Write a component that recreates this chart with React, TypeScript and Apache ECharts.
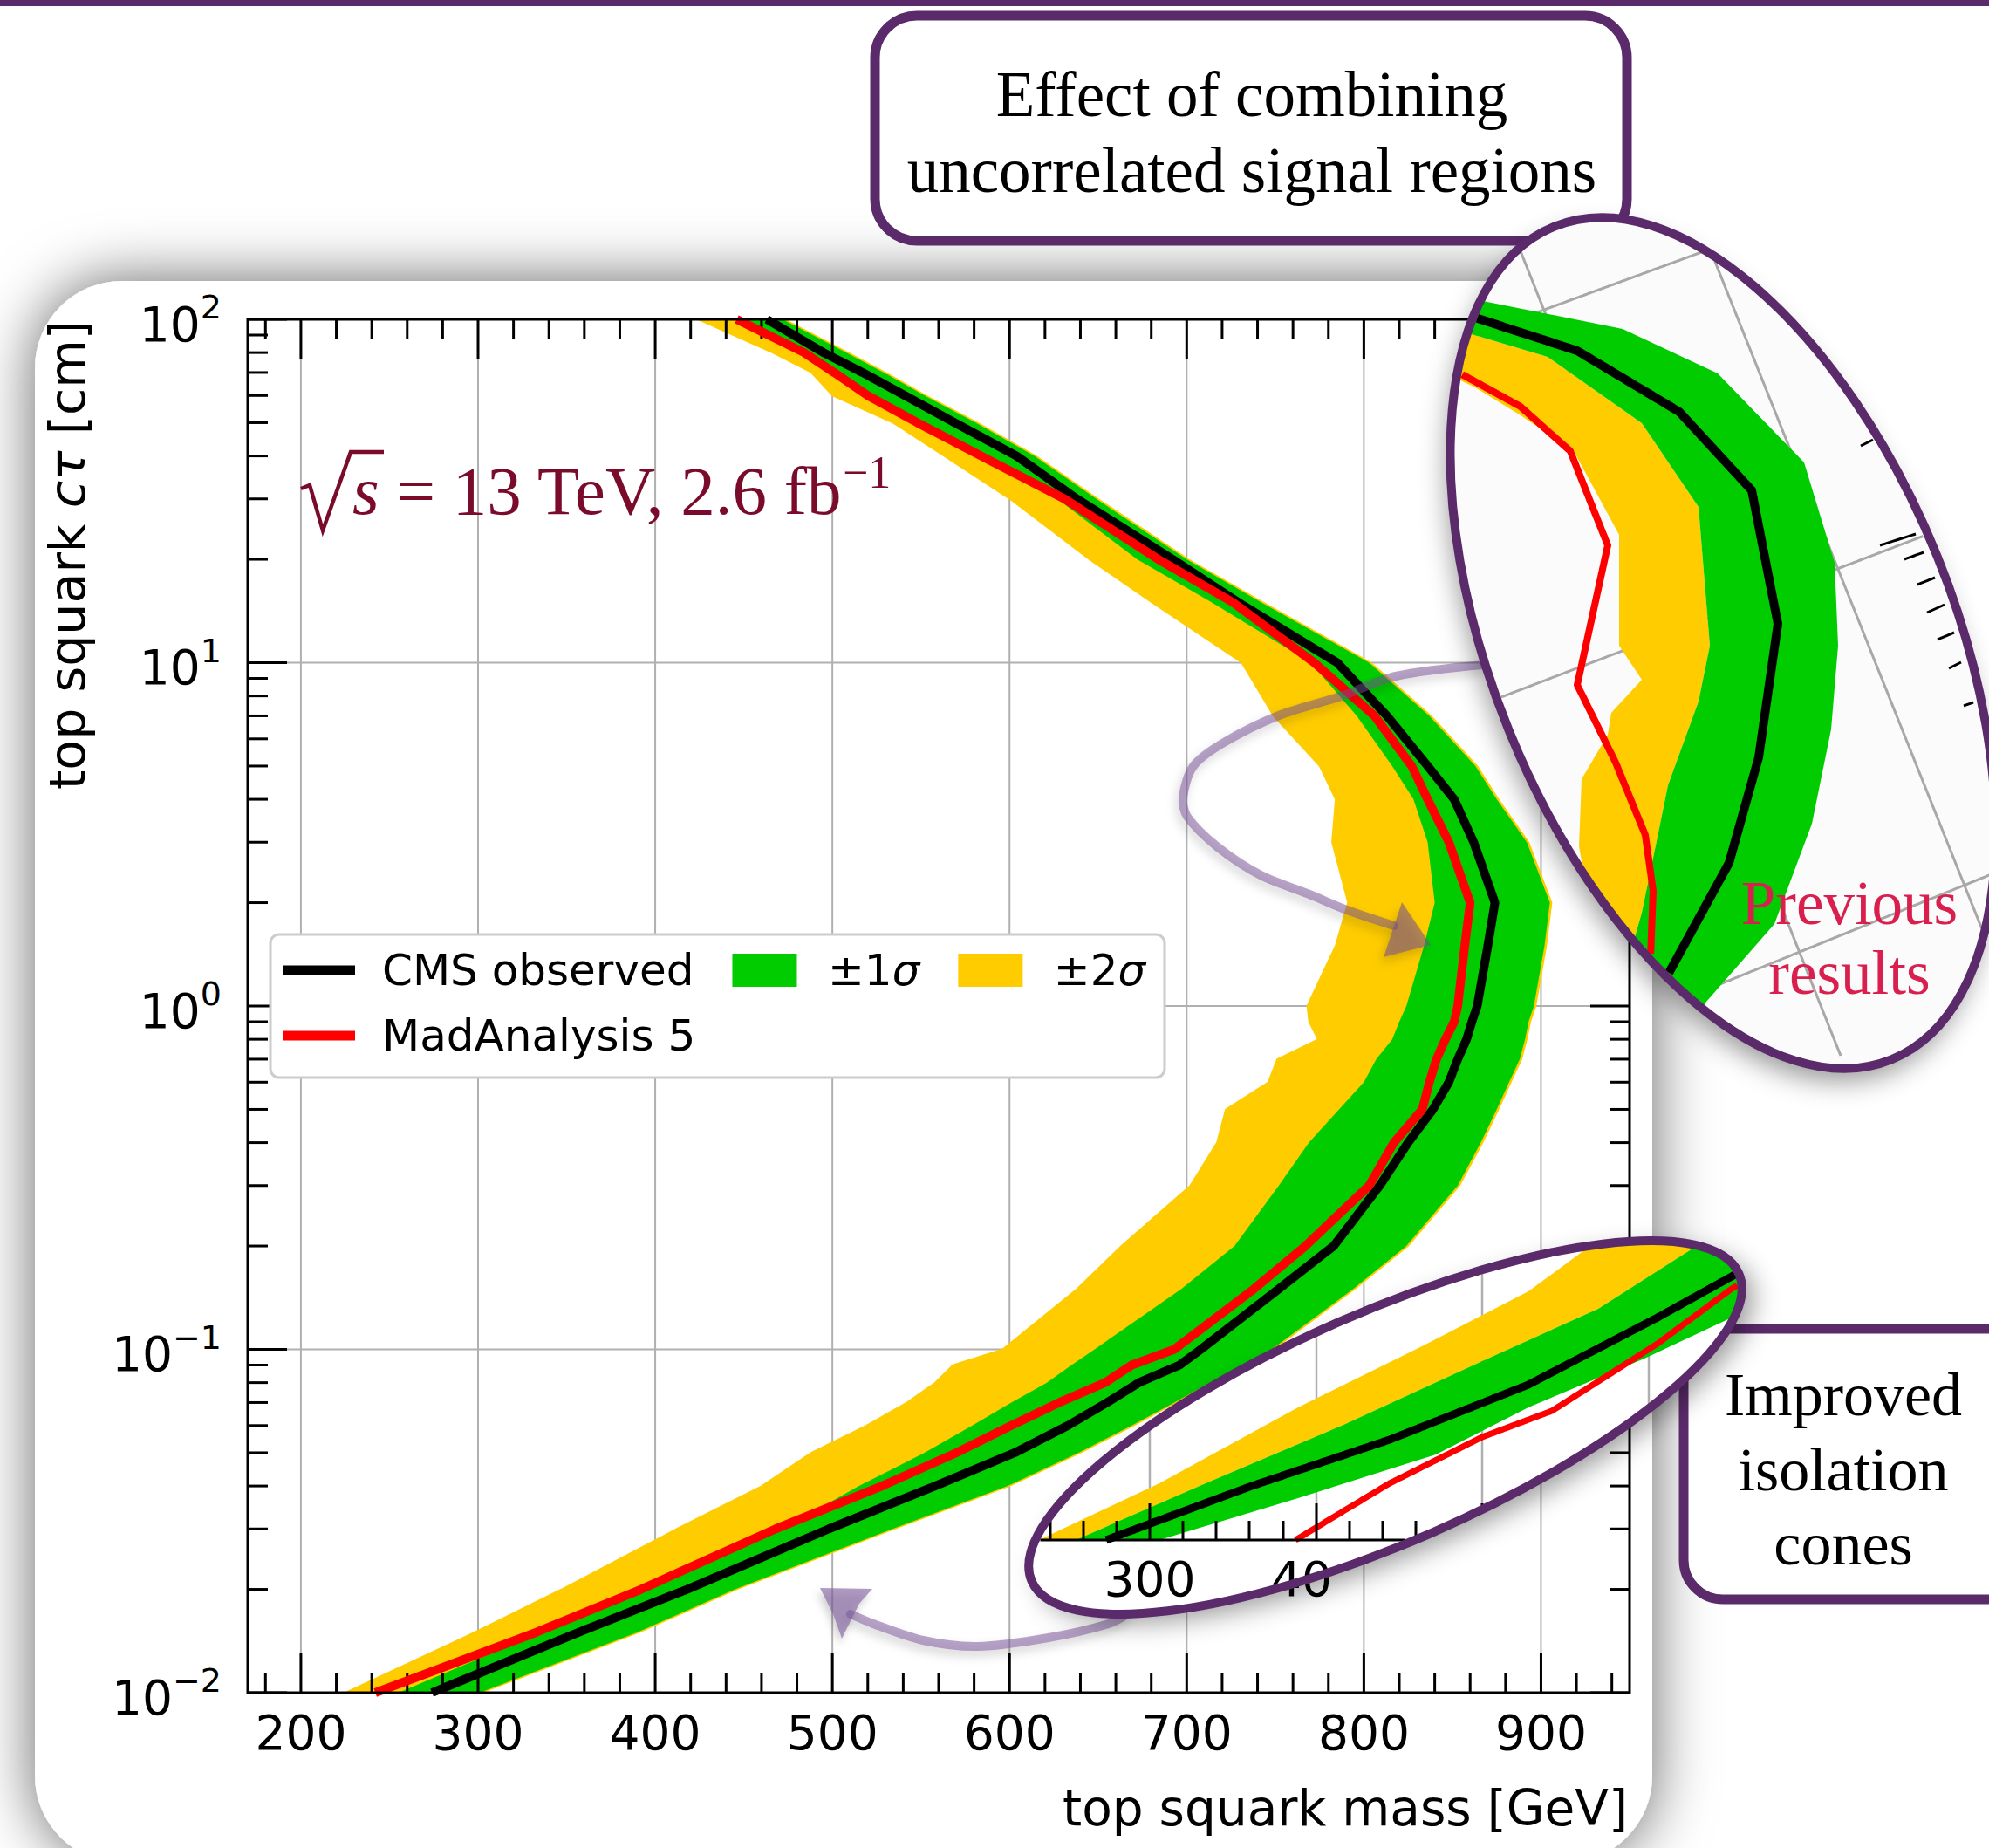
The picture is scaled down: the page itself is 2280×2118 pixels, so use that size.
import React, { useEffect, useRef } from 'react';
import * as echarts from 'echarts';

// ---------------- data ----------------
const ctau = [0.01, 0.015, 0.02, 0.03, 0.04, 0.05, 0.06, 0.07, 0.08, 0.09, 0.1, 0.15, 0.2, 0.3, 0.4, 0.5, 0.6, 0.7, 0.8, 0.9, 1, 1.5, 2, 3, 4, 5, 7, 10, 15, 20, 30, 40, 50, 60, 70, 80, 100];
const massMinus2 = [225, 298, 347, 412, 460, 488, 519, 542, 558, 568, 596, 638, 663, 702, 717, 722, 746, 751, 774, 769, 768, 784, 791, 782, 784, 775, 749, 731, 680, 645, 600, 563, 534, 500, 488, 466, 424];
const massMinus1 = [255, 336, 392, 472, 515, 552, 579, 601, 621, 635, 648, 697, 727, 752, 769, 786, 800, 807, 816, 820, 824, 834, 840, 836, 828, 816, 796, 770, 714, 672, 627, 583, 549, 521, 503, 486, 449];
const massPlus1 = [301, 390, 445, 534, 599, 639, 669, 693, 713, 732, 748, 794, 824, 853, 866, 875, 882, 888, 891, 893, 896, 902, 905, 892, 875, 863, 837, 803, 742, 700, 649, 614, 581, 552, 529, 508, 472];
const massPlus2 = [302, 391, 446, 535, 600, 640, 670, 694, 714, 733, 749, 795, 825, 854, 867, 876, 883, 889, 892, 894, 897, 903, 906, 893, 876, 864, 838, 804, 743, 701, 650, 615, 582, 553, 530, 509, 473];
const massObserved = [274, 357, 418, 498, 558, 603, 633, 655, 673, 696, 708, 752, 783, 809, 825, 839, 848, 853, 858, 861, 864, 870, 874, 862, 851, 836, 813, 785, 729, 692, 638, 604, 569, 541, 517, 495, 463];
const massMA5 = [242, 333, 392, 468, 528, 570, 601, 628, 654, 669, 693, 738, 767, 803, 817, 833, 837, 841, 846, 851, 853, 857, 860, 848, 836, 827, 806, 772, 726, 684, 631, 584, 548, 520, 501, 484, 446];

const xMajorTicks = [200, 300, 400, 500, 600, 700, 800, 900];
const xMinorTicks = [180, 220, 240, 260, 280, 320, 340, 360, 380, 420, 440, 460, 480, 520, 540, 560, 580, 620, 640, 660, 680, 720, 740, 760, 780, 820, 840, 860, 880, 920, 940];
const yMajorTicks = [0.01, 0.1, 1, 10, 100];
const yMinorTicks = [0.02, 0.03, 0.04, 0.05, 0.06, 0.07, 0.08, 0.09, 0.2, 0.3, 0.4, 0.5, 0.6, 0.7, 0.8, 0.9, 2, 3, 4, 5, 6, 7, 8, 9, 20, 30, 40, 50, 60, 70, 80, 90];

const legendRow1 = ['CMS observed', '±1σ', '±2σ'];
const legendRow2 = ['MadAnalysis 5'];

// ---------------- layout / style ----------------
const W = 2280;
const H = 2118;
const X_MIN = 170;
const X_MAX = 950;
const Y_MIN = 0.01;
const Y_MAX = 100;
const SANS = 'DejaVu Sans';
const SERIF = 'Liberation Serif';
const PURPLE = '#5b2a6b';
const GREEN = '#00cc00';
const YELLOW = '#ffcc00';
const GRID_GRAY = '#b0b0b0';
const MAROON = '#7b0b2b';

type Pt = [number, number];
type Ell = { cx: number; cy: number; rx: number; ry: number; rot: number };

// ---------------- geometry helpers for the magnifier insets ----------------
function toLocal(p: Pt, e: Ell): Pt {
  const c = Math.cos(e.rot);
  const s = Math.sin(e.rot);
  const dx = p[0] - e.cx;
  const dy = p[1] - e.cy;
  return [c * dx - s * dy, s * dx + c * dy];
}
function insideEll(p: Pt, e: Ell, shrink: number) {
  const l = toLocal(p, e);
  const a = e.rx - shrink;
  const b = e.ry - shrink;
  return (l[0] * l[0]) / (a * a) + (l[1] * l[1]) / (b * b) <= 1;
}
function ellPoly(e: Ell, shrink: number, n = 180): Pt[] {
  const c = Math.cos(e.rot);
  const s = Math.sin(e.rot);
  const a = e.rx - shrink;
  const b = e.ry - shrink;
  const pts: Pt[] = [];
  for (let k = 0; k < n; k++) {
    const t = (2 * Math.PI * k) / n;
    const lx = a * Math.cos(t);
    const ly = b * Math.sin(t);
    pts.push([e.cx + lx * c + ly * s, e.cy - lx * s + ly * c]);
  }
  return pts;
}
function clipPolygon(subject: Pt[], clip: Pt[]): Pt[] {
  let out = subject.slice();
  for (let i = 0; i < clip.length; i++) {
    const A = clip[i];
    const B = clip[(i + 1) % clip.length];
    const inp = out;
    out = [];
    if (!inp.length) break;
    const side = (p: Pt) => (B[0] - A[0]) * (p[1] - A[1]) - (B[1] - A[1]) * (p[0] - A[0]);
    for (let j = 0; j < inp.length; j++) {
      const P = inp[j];
      const Q = inp[(j + 1) % inp.length];
      const sp = side(P);
      const sq = side(Q);
      if (sp >= 0) out.push(P);
      if ((sp >= 0) !== (sq >= 0)) {
        const t = sp / (sp - sq);
        out.push([P[0] + (Q[0] - P[0]) * t, P[1] + (Q[1] - P[1]) * t]);
      }
    }
  }
  return out;
}
function clipPolyline(pts: Pt[], e: Ell, shrink: number): Pt[][] {
  const runs: Pt[][] = [];
  let cur: Pt[] = [];
  for (let i = 0; i < pts.length - 1; i++) {
    const P = pts[i];
    const Q = pts[i + 1];
    const len = Math.hypot(Q[0] - P[0], Q[1] - P[1]);
    const n = Math.max(1, Math.ceil(len / 2.5));
    for (let k = i === 0 ? 0 : 1; k <= n; k++) {
      const p: Pt = [P[0] + ((Q[0] - P[0]) * k) / n, P[1] + ((Q[1] - P[1]) * k) / n];
      if (insideEll(p, e, shrink)) cur.push(p);
      else {
        if (cur.length > 1) runs.push(cur);
        cur = [];
      }
    }
  }
  if (cur.length > 1) runs.push(cur);
  return runs;
}

function gText(t: string, x: number, y: number, size: number, o: any = {}) {
  const align = o.align || 'center';
  const vAlign = o.vAlign || 'middle';
  const style: any = {
    text: t,
    fontSize: size,
    fontFamily: o.family || SANS,
    fontStyle: o.fontStyle || 'normal',
    fill: o.fill || '#000',
    align,
    verticalAlign: vAlign,
    textAlign: align,
    textVerticalAlign: vAlign,
  };
  if (o.rich) style.rich = o.rich;
  if (o.lineHeight) style.lineHeight = o.lineHeight;
  return { type: 'text', x, y, z: o.z ?? 6, rotation: o.rotation || 0, silent: true, style };
}

function insetParts(e: Ell, z: number, polys: any[], lines: any[]) {
  const clip = ellPoly(e, 4);
  const out: any[] = [];
  let zz = z;
  polys.forEach((p) => {
    const c = clipPolygon(p.pts, clip);
    if (c.length >= 3) out.push({ type: 'polygon', z: zz, silent: true, shape: { points: c }, style: { fill: p.fill } });
    zz++;
  });
  lines.forEach((l) => {
    clipPolyline(l.pts, e, 4).forEach((run) =>
      out.push({
        type: 'polyline',
        z: l.z ?? zz,
        silent: true,
        shape: { points: run },
        style: { stroke: l.stroke, lineWidth: l.width, lineCap: 'butt', lineJoin: 'round' },
      })
    );
    if (l.z === undefined) zz++;
  });
  return out;
}

// ---------------- decorative annotation geometry (pixels) ----------------
const TR: Ell = { cx: 1975, cy: 737, rx: 265, ry: 515, rot: 0.384 };
const BR: Ell = { cx: 1588, cy: 1636, rx: 442, ry: 132, rot: 0.41 };

const trGreenOuter: Pt[] = [[1643, 338], [1700, 345], [1860, 377], [1969, 428], [2068, 530], [2103, 645], [2107, 740], [2099, 836], [2077, 944], [2034, 1059], [1956, 1148], [1904, 1225]];
const trGreenInner: Pt[] = [[1643, 377], [1687, 383], [1774, 409], [1882, 485], [1947, 581], [1960, 740], [1947, 804], [1912, 900], [1899, 964], [1882, 1046], [1860, 1123], [1843, 1225]];
const trYellowLeft: Pt[] = [[1643, 421], [1691, 444], [1743, 476], [1804, 517], [1856, 613], [1856, 740], [1882, 779], [1847, 817], [1843, 842], [1813, 893], [1810, 970], [1826, 1059], [1843, 1225]];
const trBlack: Pt[] = [[1643, 354], [1691, 364], [1808, 402], [1925, 472], [2008, 562], [2038, 715], [2016, 868], [1982, 989], [1912, 1117], [1860, 1225]];
const trRed: Pt[] = [[1643, 421], [1674, 428], [1743, 466], [1800, 517], [1843, 625], [1808, 785], [1852, 874], [1886, 957], [1895, 1021], [1891, 1123], [1888, 1225]];
const trGrayLines: Pt[][] = [
  [[1710, 205], [2110, 1210]],
  [[1950, 260], [2330, 1210]],
  [[1650, 399], [2300, 161]],
  [[1650, 826], [2300, 578]],
  [[1700, 1238], [2300, 995]],
];
const trTicks: Pt[][] = [
  [[2155, 625], [2196, 612]],
  [[2183, 641], [2205, 633]],
  [[2198, 670], [2218, 662]],
  [[2209, 702], [2229, 693]],
  [[2221, 733], [2240, 725]],
  [[2234, 766], [2248, 759]],
  [[2251, 809], [2262, 805]],
  [[2133, 511], [2147, 504]],
];

const brYellow: Pt[] = [[1191, 1765], [1329, 1700], [1488, 1613], [1630, 1543], [1752, 1480], [1816, 1433], [1860, 1395], [1990, 1395], [1937, 1433], [1832, 1500], [1699, 1560], [1540, 1633], [1382, 1700], [1233, 1765]];
const brGreen: Pt[] = [[1233, 1765], [1382, 1700], [1540, 1633], [1699, 1560], [1832, 1500], [1937, 1433], [1990, 1395], [2060, 1395], [2060, 1470], [1985, 1510], [1885, 1557], [1752, 1613], [1646, 1667], [1488, 1717], [1329, 1765]];
const brBlack: Pt[] = [[1268, 1765], [1435, 1703], [1593, 1650], [1752, 1587], [1900, 1510], [1985, 1463], [2060, 1420]];
const brRed: Pt[] = [[1485, 1765], [1593, 1700], [1699, 1647], [1779, 1617], [1900, 1540], [1985, 1477], [2060, 1432]];
const brGridX = [1318, 1509, 1699, 1890];
const brMajorX = [1318, 1509, 1699];
const brMinorX = [1204, 1242, 1280, 1356, 1394, 1432, 1471, 1547, 1585, 1623, 1661];

const arrow1: Pt[] = [[1700, 762], [1600, 775], [1537, 798], [1466, 820], [1403, 851], [1368, 878], [1356, 914], [1361, 936], [1396, 971], [1445, 1003], [1501, 1025], [1544, 1043], [1598, 1061]];
const arrow1Head: Pt[] = [[1607, 1034], [1640, 1083], [1586, 1097]];
const arrow2: Pt[] = [[1294, 1849], [1271, 1861], [1202, 1877], [1121, 1887], [1058, 1880], [1001, 1861], [975, 1850]];
const arrow2Head: Pt[] = [[940, 1820], [1000, 1821], [985, 1838], [965, 1878], [955, 1850]];

function bandPoints(api: any, lo: number[], hi: number[]) {
  const pts: number[][] = [];
  for (let i = 0; i < ctau.length; i++) pts.push(api.coord([lo[i], ctau[i]]));
  for (let i = ctau.length - 1; i >= 0; i--) pts.push(api.coord([hi[i], ctau[i]]));
  return pts;
}

function buildOption() {
  const supLabel = (v: number) => {
    const e = Math.round(Math.log10(v));
    return '{b|10}{s|' + (e < 0 ? '\u2212' + -e : String(e)) + '}';
  };

  const lineIcon = 'path://M0,0H83V11H0Z';
  const boxIcon = 'path://M0,0H74V38H0Z';
  const legendCommon = {
    orient: 'horizontal',
    left: 324,
    itemWidth: 83,
    itemHeight: 38,
    itemGap: 44,
    padding: 0,
    z: 5,
    selectedMode: false,
    textStyle: {
      fontSize: 50,
      fontFamily: SANS,
      color: '#000',
      padding: [0, 0, 0, 26],
      rich: { i: { fontSize: 50, fontFamily: SANS, fontStyle: 'italic', color: '#000' } },
    },
    formatter: (name: string) => (name === '±1σ' ? '±1{i|σ}' : name === '±2σ' ? '±2{i|σ}' : name),
  };
  const legendItem = (name: string) => {
    if (name === 'CMS observed') return { name, icon: lineIcon, itemStyle: { color: '#000000', borderWidth: 0 } };
    if (name === 'MadAnalysis 5') return { name, icon: lineIcon, itemStyle: { color: '#ff0000', borderWidth: 0 } };
    if (name === '±1σ') return { name, icon: boxIcon, itemStyle: { color: GREEN, borderWidth: 0 } };
    return { name, icon: boxIcon, itemStyle: { color: YELLOW, borderWidth: 0 } };
  };

  const graphics: any[] = [];
  // panel with shadow
  graphics.push({
    type: 'rect', z: 0, silent: true,
    shape: { x: 40, y: 322, width: 1854, height: 1813, r: 100 },
    style: { fill: '#ffffff', shadowBlur: 70, shadowColor: 'rgba(0,0,0,0.6)' },
  });
  // legend frame
  graphics.push({
    type: 'rect', z: 4, silent: true,
    shape: { x: 310, y: 1071, width: 1025, height: 164, r: 10 },
    style: { fill: '#ffffff', stroke: '#cccccc', lineWidth: 3 },
  });
  // axis titles
  graphics.push(
    gText('{n|top squark }{i|c\u03c4}{n| [cm]}', 77, 636, 57, {
      rotation: Math.PI / 2,
      rich: {
        n: { fontSize: 57, fontFamily: SANS, fill: '#000' },
        i: { fontSize: 57, fontFamily: SANS, fontStyle: 'italic', fill: '#000' },
      },
    })
  );
  graphics.push(gText('top squark mass [GeV]', 1866, 2072, 56.5, { align: 'right' }));
  // sqrt(s) annotation
  graphics.push({
    type: 'polyline', z: 6, silent: true,
    shape: { points: [[345, 560], [355, 556], [370, 608], [402, 518], [440, 518]] },
    style: { stroke: MAROON, lineWidth: 4.5, lineJoin: 'miter' },
  });
  graphics.push(
    gText('{it|s} = 13 TeV, 2.6 fb{sup|\u22121}', 404, 562, 79, {
      align: 'left',
      family: SERIF,
      fill: MAROON,
      lineHeight: 94,
      rich: {
        it: { fontSize: 79, fontFamily: SERIF, fontStyle: 'italic', fill: MAROON, lineHeight: 94 },
        sup: { fontSize: 52, fontFamily: SERIF, fill: MAROON, lineHeight: 58, verticalAlign: 'top' },
      },
    })
  );

  // arrows
  graphics.push({
    type: 'polyline', z: 50, silent: true,
    shape: { points: arrow1, smooth: 0.3 },
    style: { stroke: 'rgba(115,75,145,0.5)', lineWidth: 10, lineCap: 'round', shadowBlur: 12, shadowColor: 'rgba(0,0,0,0.3)', shadowOffsetX: -3, shadowOffsetY: 6 },
  });
  graphics.push({
    type: 'polygon', z: 50, silent: true,
    shape: { points: arrow1Head },
    style: { fill: 'rgba(115,75,145,0.55)', shadowBlur: 12, shadowColor: 'rgba(0,0,0,0.3)', shadowOffsetX: -3, shadowOffsetY: 6 },
  });
  graphics.push({
    type: 'polyline', z: 50, silent: true,
    shape: { points: arrow2, smooth: 0.3 },
    style: { stroke: 'rgba(125,90,155,0.55)', lineWidth: 10, lineCap: 'round', shadowBlur: 12, shadowColor: 'rgba(0,0,0,0.3)', shadowOffsetX: -3, shadowOffsetY: 6 },
  });
  graphics.push({
    type: 'polygon', z: 50, silent: true,
    shape: { points: arrow2Head },
    style: { fill: 'rgba(125,90,155,0.6)', shadowBlur: 10, shadowColor: 'rgba(0,0,0,0.3)', shadowOffsetX: -3, shadowOffsetY: 6 },
  });

  // top bar and text boxes
  graphics.push({ type: 'rect', z: 60, silent: true, shape: { x: 0, y: 0, width: W, height: 7 }, style: { fill: PURPLE } });
  graphics.push({
    type: 'rect', z: 60, silent: true,
    shape: { x: 1003, y: 18, width: 862, height: 258, r: 48 },
    style: { fill: '#ffffff', stroke: PURPLE, lineWidth: 11 },
  });
  graphics.push(gText('Effect of combining', 1435, 108, 73, { family: SERIF, z: 61 }));
  graphics.push(gText('uncorrelated signal regions', 1435, 195, 73, { family: SERIF, z: 61 }));
  graphics.push({
    type: 'rect', z: 60, silent: true,
    shape: { x: 1930, y: 1523, width: 420, height: 310, r: 45 },
    style: { fill: '#ffffff', stroke: PURPLE, lineWidth: 11 },
  });
  graphics.push(gText('Improved', 2113, 1598, 70, { family: SERIF, z: 61 }));
  graphics.push(gText('isolation', 2113, 1684, 70, { family: SERIF, z: 61 }));
  graphics.push(gText('cones', 2113, 1769, 70, { family: SERIF, z: 61 }));

  // ---- top-right magnifier ----
  graphics.push({
    type: 'ellipse', z: 70, silent: true, x: TR.cx, y: TR.cy, rotation: TR.rot,
    shape: { cx: 0, cy: 0, rx: TR.rx, ry: TR.ry },
    style: { fill: '#fbfbfb', shadowBlur: 30, shadowColor: 'rgba(0,0,0,0.4)', shadowOffsetX: -10, shadowOffsetY: 12 },
  });
  graphics.push(
    ...insetParts(TR, 71, [], trGrayLines.map((pts) => ({ pts, stroke: '#a8a8a8', width: 3, z: 71 })))
  );
  graphics.push(
    ...insetParts(
      TR,
      72,
      [
        { pts: trYellowLeft.concat(trGreenInner.slice().reverse()), fill: YELLOW },
        { pts: trGreenInner.concat(trGreenOuter.slice().reverse()), fill: GREEN },
      ],
      [
        { pts: trBlack, stroke: '#000', width: 10 },
        { pts: trRed, stroke: '#ff0000', width: 8 },
      ]
    )
  );
  graphics.push(...insetParts(TR, 76, [], trTicks.map((pts) => ({ pts, stroke: '#000', width: 3, z: 76 }))));
  graphics.push(gText('Previous', 2120, 1035, 71, { family: SERIF, fill: '#d81f4e', z: 77 }));
  graphics.push(gText('results', 2120, 1115, 71, { family: SERIF, fill: '#d81f4e', z: 77 }));
  graphics.push({
    type: 'ellipse', z: 78, silent: true, x: TR.cx, y: TR.cy, rotation: TR.rot,
    shape: { cx: 0, cy: 0, rx: TR.rx, ry: TR.ry },
    style: { fill: null, stroke: PURPLE, lineWidth: 10 },
  });

  // ---- bottom magnifier ----
  graphics.push({
    type: 'ellipse', z: 70, silent: true, x: BR.cx, y: BR.cy, rotation: BR.rot,
    shape: { cx: 0, cy: 0, rx: BR.rx, ry: BR.ry },
    style: { fill: '#ffffff', shadowBlur: 30, shadowColor: 'rgba(0,0,0,0.4)', shadowOffsetX: 8, shadowOffsetY: 14 },
  });
  graphics.push(
    ...insetParts(BR, 71, [], brGridX.map((x) => ({ pts: [[x, 1765], [x, 1300]] as Pt[], stroke: '#b0b0b0', width: 2.5, z: 71 })))
  );
  graphics.push(
    ...insetParts(
      BR,
      72,
      [
        { pts: brYellow, fill: YELLOW },
        { pts: brGreen, fill: GREEN },
      ],
      [
        { pts: brBlack, stroke: '#000', width: 9 },
        { pts: brRed, stroke: '#ff0000', width: 7 },
      ]
    )
  );
  const brAxisLines: any[] = [{ pts: [[1150, 1765], [1760, 1765]] as Pt[], stroke: '#000', width: 3, z: 76 }];
  brMajorX.forEach((x) => brAxisLines.push({ pts: [[x, 1765], [x, 1723]] as Pt[], stroke: '#000', width: 3, z: 76 }));
  brMinorX.forEach((x) => brAxisLines.push({ pts: [[x, 1765], [x, 1743]] as Pt[], stroke: '#000', width: 3, z: 76 }));
  graphics.push(...insetParts(BR, 76, [], brAxisLines));
  graphics.push(gText('300', 1318, 1810, 55, { z: 77 }));
  graphics.push(gText('40', 1457, 1810, 55, { align: 'left', z: 77 }));
  graphics.push({
    type: 'ellipse', z: 78, silent: true, x: BR.cx, y: BR.cy, rotation: BR.rot,
    shape: { cx: 0, cy: 0, rx: BR.rx, ry: BR.ry },
    style: { fill: null, stroke: PURPLE, lineWidth: 10 },
  });

  const series: any[] = [
    {
      type: 'custom', name: 'xgrid', z: 1, silent: true,
      data: xMajorTicks.map((v) => [v, 1]),
      encode: { x: 0, y: 1 },
      renderItem: (_p: any, api: any) => {
        const v = api.value(0);
        const a = api.coord([v, Y_MIN]);
        const b = api.coord([v, Y_MAX]);
        return { type: 'line', shape: { x1: a[0], y1: a[1], x2: b[0], y2: b[1] }, style: { stroke: GRID_GRAY, lineWidth: 2 } };
      },
    },
    {
      type: 'custom', name: 'ygrid', z: 1, silent: true,
      data: yMajorTicks.map((v) => [X_MIN, v]),
      encode: { x: 0, y: 1 },
      renderItem: (_p: any, api: any) => {
        const v = api.value(1);
        const a = api.coord([X_MIN, v]);
        const b = api.coord([X_MAX, v]);
        return { type: 'line', shape: { x1: a[0], y1: a[1], x2: b[0], y2: b[1] }, style: { stroke: GRID_GRAY, lineWidth: 2 } };
      },
    },
    {
      type: 'custom', name: '±2σ', z: 2, silent: true,
      itemStyle: { color: YELLOW },
      data: ctau.map((c, i) => [massMinus2[i], c, massPlus2[i]]),
      encode: { x: [0, 2], y: 1 },
      renderItem: (p: any, api: any) => {
        if (p.dataIndex !== 0) return null;
        return { type: 'polygon', shape: { points: bandPoints(api, massMinus2, massPlus2) }, style: { fill: YELLOW, stroke: YELLOW, lineWidth: 1.5 } };
      },
    },
    {
      type: 'custom', name: '±1σ', z: 2, silent: true,
      itemStyle: { color: GREEN },
      data: ctau.map((c, i) => [massMinus1[i], c, massPlus1[i]]),
      encode: { x: [0, 2], y: 1 },
      renderItem: (p: any, api: any) => {
        if (p.dataIndex !== 0) return null;
        return { type: 'polygon', shape: { points: bandPoints(api, massMinus1, massPlus1) }, style: { fill: GREEN } };
      },
    },
    {
      type: 'line', name: 'CMS observed', z: 3, silent: true, clip: true,
      color: '#000000',
      symbol: 'none', showSymbol: false,
      lineStyle: { color: '#000000', width: 10 },
      data: ctau.map((c, i) => [massObserved[i], c]),
    },
    {
      type: 'line', name: 'MadAnalysis 5', z: 3, silent: true, clip: true,
      color: '#ff0000',
      symbol: 'none', showSymbol: false,
      lineStyle: { color: '#ff0000', width: 10 },
      data: ctau.map((c, i) => [massMA5[i], c]),
    },
    {
      type: 'custom', name: 'xticks', z: 3, silent: true,
      data: xMajorTicks.map((v) => [v, 1, 1]).concat(xMinorTicks.map((v) => [v, 1, 0])),
      encode: { x: 0, y: 1 },
      renderItem: (_p: any, api: any) => {
        const v = api.value(0);
        const len = api.value(2) === 1 ? 45 : 23;
        const b = api.coord([v, Y_MIN]);
        const t = api.coord([v, Y_MAX]);
        const st = { stroke: '#000', lineWidth: 3 };
        return {
          type: 'group',
          children: [
            { type: 'line', shape: { x1: b[0], y1: b[1], x2: b[0], y2: b[1] - len }, style: st },
            { type: 'line', shape: { x1: t[0], y1: t[1], x2: t[0], y2: t[1] + len }, style: st },
          ],
        };
      },
    },
    {
      type: 'custom', name: 'yticks', z: 3, silent: true,
      data: yMajorTicks.map((v) => [X_MIN, v, 1]).concat(yMinorTicks.map((v) => [X_MIN, v, 0])),
      encode: { x: 0, y: 1 },
      renderItem: (_p: any, api: any) => {
        const v = api.value(1);
        const len = api.value(2) === 1 ? 45 : 23;
        const l = api.coord([X_MIN, v]);
        const r = api.coord([X_MAX, v]);
        const st = { stroke: '#000', lineWidth: 3 };
        return {
          type: 'group',
          children: [
            { type: 'line', shape: { x1: l[0], y1: l[1], x2: l[0] + len, y2: l[1] }, style: st },
            { type: 'line', shape: { x1: r[0], y1: r[1], x2: r[0] - len, y2: r[1] }, style: st },
          ],
        };
      },
    },
  ];

  return {
    animation: false,
    backgroundColor: 'transparent',
    grid: { left: 284, top: 366, width: 1584, height: 1574, show: true, borderColor: '#000', borderWidth: 3, backgroundColor: 'transparent', z: 10 },
    xAxis: {
      type: 'value', min: X_MIN, max: X_MAX, interval: 10, z: 6,
      axisLine: { show: false }, axisTick: { show: false }, splitLine: { show: false },
      axisLabel: {
        interval: 0,
        margin: 18,
        fontSize: 55,
        fontFamily: SANS,
        color: '#000',
        formatter: (v: number) => (xMajorTicks.indexOf(Math.round(v)) >= 0 ? String(Math.round(v)) : ''),
      },
    },
    yAxis: {
      type: 'log', logBase: 10, min: Y_MIN, max: Y_MAX, z: 6,
      axisLine: { show: false }, axisTick: { show: false }, splitLine: { show: false },
      axisLabel: {
        margin: 30,
        formatter: supLabel,
        rich: {
          b: { fontSize: 55, fontFamily: SANS, color: '#000', lineHeight: 66, verticalAlign: 'bottom' },
          s: { fontSize: 38, fontFamily: SANS, color: '#000', lineHeight: 40, verticalAlign: 'top' },
        },
      },
    },
    legend: [
      Object.assign({}, legendCommon, { top: 1087, data: legendRow1.map(legendItem) }),
      Object.assign({}, legendCommon, { top: 1162, data: legendRow2.map(legendItem) }),
    ],
    series,
    graphic: { elements: graphics },
  };
}

const App = () => {
  const ref = useRef<HTMLDivElement>(null);
  useEffect(() => {
    const chart = echarts.init(ref.current as HTMLDivElement, null, { renderer: 'svg', width: W, height: H });
    chart.setOption(buildOption() as any);
    return () => chart.dispose();
  }, []);
  return <div ref={ref} style={{ position: 'absolute', left: 0, top: 0, width: W, height: H, background: '#ffffff' }} />;
};

export default App;
